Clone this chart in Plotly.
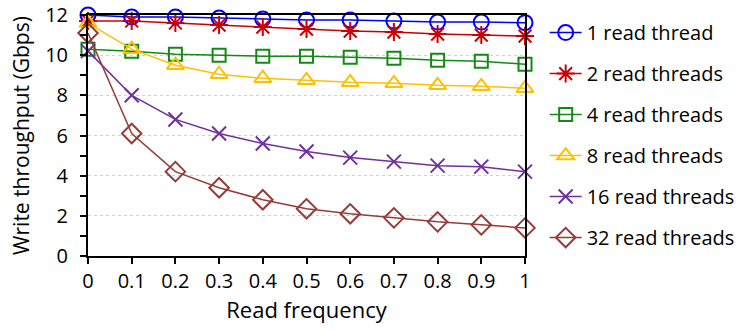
import plotly.graph_objects as go

read_freq = [0, 0.1, 0.2, 0.3, 0.4, 0.5, 0.6, 0.7, 0.8, 0.9, 1.0]
t1 = [12.0, 11.9, 11.9, 11.85, 11.8, 11.75, 11.75, 11.7, 11.65, 11.65, 11.62]
t2 = [11.7, 11.7, 11.6, 11.5, 11.4, 11.3, 11.2, 11.15, 11.05, 11.0, 10.95]
t4 = [10.3, 10.2, 10.05, 10.0, 9.95, 9.95, 9.9, 9.85, 9.75, 9.7, 9.55]
t8 = [11.6, 10.3, 9.5, 9.05, 8.85, 8.75, 8.65, 8.6, 8.5, 8.45, 8.35]
t16 = [10.2, 8.0, 6.8, 6.1, 5.6, 5.2, 4.9, 4.7, 4.5, 4.45, 4.2]
t32 = [11.1, 6.1, 4.2, 3.4, 2.8, 2.35, 2.1, 1.9, 1.7, 1.55, 1.4]

names = ["1 read thread", "2 read threads", "4 read threads",
         "8 read threads", "16 read threads", "32 read threads"]
series = [t1, t2, t4, t8, t16, t32]
colors = ["#0000FF", "#CC0000", "#138A13", "#FFC000", "#7030A0", "#983B36"]
symbols = ["circle-open", "asterisk-open", "square-open",
           "triangle-up-open", "x-thin-open", "diamond-open"]
sizes = [15, 15, 13, 15, 14, 15]

fig = go.Figure()
for i, (n, s, c, sym, sz) in enumerate(zip(names, series, colors, symbols, sizes)):
    fig.add_trace(go.Scatter(
        x=read_freq, y=s, name=n, mode="lines+markers",
        line=dict(color=c, width=1.5),
        marker=dict(symbol=sym, size=sz, color=c, line=dict(color=c, width=2)),
        legendgroup=f"g{i}",
        cliponaxis=False,
    ))

font = "Open Sans, Liberation Sans, sans-serif"
fig.update_layout(
    width=736, height=329,
    margin=dict(l=88, r=211, t=15, b=73, autoexpand=False),
    plot_bgcolor="white", paper_bgcolor="white",
    font=dict(family=font, size=20, color="black"),
    showlegend=True,
    legend=dict(x=1.045, xanchor="left", y=1.008, yanchor="top",
                font=dict(size=20), tracegroupgap=12, maxheight=320,
                itemwidth=32, bgcolor="rgba(0,0,0,0)"),
    xaxis=dict(
        range=[0, 1], dtick=0.1, tick0=0, automargin=False,
        showline=True, linecolor="black", linewidth=2, mirror=True,
        ticks="outside", ticklen=6, tickwidth=2, tickcolor="black",
        showgrid=False, zeroline=False,
        title=dict(text="Read frequency", font=dict(size=22), standoff=10),
        tickfont=dict(size=20),
    ),
    yaxis=dict(
        range=[0, 12], dtick=2, tick0=0, automargin=False,
        showline=True, linecolor="black", linewidth=2, mirror=True,
        ticks="outside", ticklen=6, tickwidth=2, tickcolor="black",
        ticklabelstandoff=8,
        showgrid=True, gridcolor="#D0D0D0", griddash="dot", gridwidth=1,
        zeroline=False,
        minor=dict(dtick=1, ticks="outside", ticklen=6, tickwidth=2,
                   tickcolor="black", showgrid=False),
        title=dict(text="Write throughput (Gbps)", font=dict(size=21), standoff=10),
        tickfont=dict(size=20),
    ),
)

fig.write_html("out.html", config={"displayModeBar": False},
               post_script="document.body.style.margin='0';")
